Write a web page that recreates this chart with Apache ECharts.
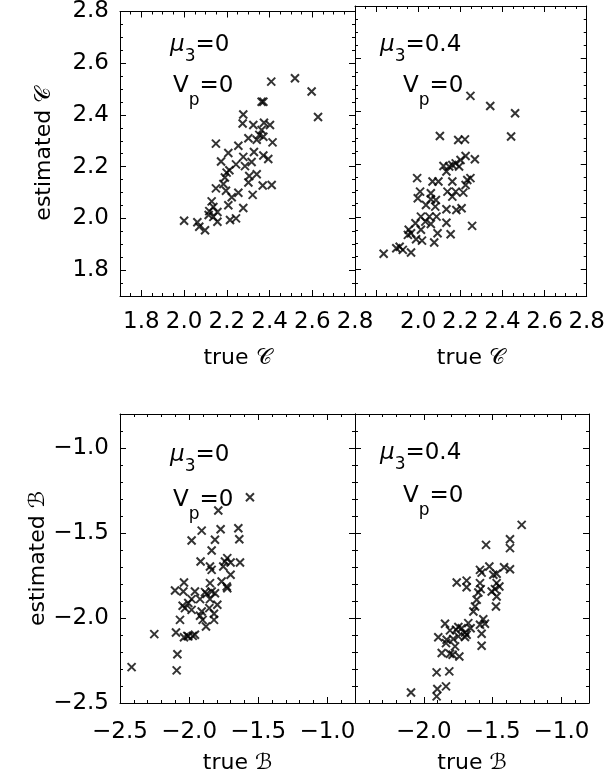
<!DOCTYPE html>
<html>
<head>
<meta charset="utf-8">
<script src="https://cdn.jsdelivr.net/npm/echarts@6/dist/echarts.min.js"></script>
<style>html,body{margin:0;padding:0;background:#fff}#c{width:608px;height:777px}</style>
</head>
<body>
<div id="c"></div>
<script>
// ---- data: [true, estimated] ----
const cTrueA = [2.408,2.519,2.597,2.627,2.363,2.371,2.277,2.274,2.324,2.374,2.402,2.363,2.352,2.301,2.340,2.371,2.414,2.149,2.254,2.207,2.327,2.277,2.371,2.394,2.173,2.243,2.285,2.316,2.212,2.199,2.191,2.184,2.305,2.301,2.340,2.368,2.410,2.149,2.196,2.254,2.223,2.321,2.129,2.137,2.118,2.156,2.207,2.277,2.137,2.156,2.215,2.243,2.000,2.062,2.071,2.098,2.115];
const cEstA  = [2.529,2.542,2.491,2.392,2.451,2.451,2.402,2.367,2.361,2.370,2.361,2.342,2.323,2.310,2.304,2.316,2.294,2.289,2.281,2.253,2.257,2.238,2.243,2.230,2.220,2.209,2.202,2.218,2.186,2.177,2.158,2.133,2.164,2.139,2.171,2.127,2.129,2.116,2.107,2.099,2.082,2.091,2.066,2.044,2.028,2.025,2.051,2.040,2.006,1.987,1.994,2.000,1.991,1.985,1.968,1.954,2.013];
const cTrueB = [2.248,2.342,2.460,2.441,2.103,2.190,2.222,2.225,2.269,2.201,2.178,2.120,2.147,2.162,2.134,1.995,2.068,2.096,2.162,2.233,2.248,2.225,2.009,2.060,2.139,2.178,2.214,1.998,2.060,2.084,2.162,2.037,2.081,2.134,2.181,2.206,2.013,2.053,2.087,1.987,2.034,2.060,2.134,2.256,1.955,1.966,2.092,2.154,1.990,2.018,2.076,1.912,1.896,1.927,1.966,1.836,1.951,2.013,2.194];
const cEstB  = [2.459,2.421,2.393,2.305,2.307,2.292,2.294,2.231,2.219,2.216,2.203,2.193,2.191,2.197,2.172,2.147,2.134,2.134,2.134,2.140,2.147,2.121,2.096,2.090,2.096,2.096,2.092,2.071,2.067,2.064,2.077,2.045,2.039,2.029,2.026,2.033,2.001,2.001,2.001,1.976,1.982,1.973,1.978,1.966,1.951,1.938,1.938,1.934,1.915,1.910,1.903,1.887,1.881,1.875,1.865,1.860,1.932,1.951,2.191];
const bTrueA = [-1.560,-1.789,-1.909,-1.982,-1.772,-1.644,-1.637,-1.813,-1.837,-1.917,-1.849,-1.837,-1.741,-1.724,-1.700,-1.632,-1.753,-1.700,-1.765,-1.728,-1.724,-2.102,-2.037,-2.042,-1.958,-1.885,-1.873,-1.813,-1.982,-1.921,-1.849,-1.796,-2.047,-2.030,-1.982,-1.909,-1.854,-2.006,-1.820,-1.820,-1.902,-2.066,-1.878,-2.095,-2.037,-2.013,-1.974,-1.958,-2.006,-2.252,-2.085,-2.090,-2.416,-1.921,-1.849,-1.837];
const bEstA  = [-1.290,-1.368,-1.486,-1.544,-1.478,-1.472,-1.537,-1.540,-1.603,-1.668,-1.697,-1.717,-1.668,-1.648,-1.674,-1.674,-1.697,-1.746,-1.785,-1.815,-1.825,-1.838,-1.791,-1.844,-1.844,-1.848,-1.858,-1.854,-1.889,-1.889,-1.889,-1.922,-1.928,-1.942,-1.952,-1.962,-1.942,-1.912,-1.975,-2.011,-2.011,-2.011,-2.050,-2.085,-2.113,-2.105,-2.105,-2.099,-2.108,-2.095,-2.213,-2.308,-2.289,-1.987,-1.795,-1.844];
const bTrueB = [-1.289,-1.374,-1.374,-1.548,-1.374,-1.417,-1.471,-1.495,-1.524,-1.592,-1.580,-1.761,-1.689,-1.689,-1.592,-1.587,-1.471,-1.483,-1.451,-1.507,-1.471,-1.476,-1.604,-1.616,-1.628,-1.640,-1.568,-1.556,-1.592,-1.660,-1.580,-1.580,-1.689,-1.725,-1.749,-1.846,-1.810,-1.895,-1.834,-1.839,-1.786,-1.749,-1.701,-1.773,-1.810,-1.791,-1.742,-1.870,-1.766,-1.907,-1.815,-1.839,-1.902,-1.907,-2.093,-1.701,-1.677];
const bEstB  = [-1.452,-1.537,-1.589,-1.570,-1.713,-1.701,-1.740,-1.746,-1.697,-1.717,-1.733,-1.791,-1.780,-1.819,-1.795,-1.830,-1.795,-1.830,-1.815,-1.844,-1.874,-1.932,-1.850,-1.893,-1.932,-1.962,-2.007,-2.034,-2.040,-2.060,-2.093,-2.163,-2.099,-2.060,-2.053,-2.034,-2.073,-2.113,-2.128,-2.148,-2.124,-2.108,-2.112,-2.167,-2.210,-2.216,-2.226,-2.206,-2.069,-2.320,-2.314,-2.402,-2.418,-2.461,-2.438,-2.085,-2.030];

// ---- ticks / labels ----
const cTicks = [1.8,2.0,2.2,2.4,2.6,2.8];
const cLabelsLeft = [1.8,2.0,2.2,2.4,2.6,2.8];
const cLabelsRight = [2.0,2.2,2.4,2.6,2.8];
const bTicks = [-2.5,-2.0,-1.5,-1.0];
const bLabelsLeft = [-2.5,-2.0,-1.5,-1.0];
const bLabelsRight = [-2.0,-1.5,-1.0];
const cRange = [1.7, 2.8];
const bRange = [-2.5, -0.8];

const FONT = 'DejaVu Sans';
const panels = [
  {box:[120,6,235,290], x:cTrueA, y:cEstA, range:cRange, minor:0.05, ticks:cTicks, xl:cLabelsLeft, yl:cLabelsLeft, xName:'true 𝒞', yName:'estimated 𝒞', xMargin:15, xGap:51},
  {box:[355,6,234,290], x:cTrueB, y:cEstB, range:cRange, minor:0.05, ticks:cTicks, xl:cLabelsRight, yl:[], xName:'true 𝒞', yName:'', xMargin:15, xGap:51},
  {box:[120,414,235,289], x:bTrueA, y:bEstA, range:bRange, minor:0.1, ticks:bTicks, xl:bLabelsLeft, yl:bLabelsLeft, xName:'true ℬ', yName:'estimated ℬ', xMargin:18, xGap:49},
  {box:[355,414,234,289], x:bTrueB, y:bEstB, range:bRange, minor:0.1, ticks:bTicks, xl:bLabelsRight, yl:[], xName:'true ℬ', yName:'', xMargin:18, xGap:49}
];

const fmt = v => Number(v).toFixed(1).replace('-', '\u2212');
const grids = [], xAxes = [], yAxes = [], series = [];

function makeAxes(gi, pos, p, labels, name, margin, gap, isY) {
  const minorAx = {
    type:'value', gridIndex:gi, position:pos, min:p.range[0], max:p.range[1], interval:p.minor,
    axisLine:{show:true, onZero:false, lineStyle:{color:'#000', width:1}},
    axisTick:{show:true, inside:true, length:3, lineStyle:{color:'#000', width:1}},
    axisLabel:{show:false}, splitLine:{show:false}
  };
  const majorAx = {
    type:'value', gridIndex:gi, position:pos, min:p.range[0], max:p.range[1],
    axisLine:{show:false, onZero:false},
    axisTick:{show:true, inside:true, length:6, customValues:p.ticks, lineStyle:{color:'#000', width:1}},
    axisLabel:{show:labels.length>0, customValues:labels, formatter:fmt, color:'#000', fontFamily:FONT, fontSize:23, margin:margin, showMinLabel:true, showMaxLabel:true, hideOverlap:false},
    splitLine:{show:false},
    name:name, nameLocation:'middle', nameGap:gap,
    nameTextStyle:{color:'#000', fontFamily:FONT, fontSize:22}
  };
  if (isY) majorAx.nameRotate = 90;
  return [minorAx, majorAx];
}

panels.forEach((p, gi) => {
  grids.push({left:p.box[0], top:p.box[1], width:p.box[2], height:p.box[3], containLabel:false});
  const xb = makeAxes(gi, 'bottom', p, p.xl, p.xName, p.xMargin, p.xGap, false);
  const xt = makeAxes(gi, 'top', p, [], '', 0, 0, false);
  const yl = makeAxes(gi, 'left', p, p.yl, p.yName, 11, 65, true);
  const yr = makeAxes(gi, 'right', p, [], '', 0, 0, true);
  const xi = xAxes.length; xAxes.push(...xb, ...xt);
  const yi = yAxes.length; yAxes.push(...yl, ...yr);
  series.push({
    type:'scatter', xAxisIndex:xi+1, yAxisIndex:yi+1,
    data:p.x.map((v,i)=>[v, p.y[i]]),
    symbol:'path://M0,0L10,10M10,0L0,10', symbolSize:8,
    itemStyle:{color:'rgba(0,0,0,0)', borderColor:'#000', borderWidth:2},
    silent:true, animation:false
  });
});

const rich = {
  g:{fontSize:23, fontFamily:FONT, fontStyle:'italic', color:'#000', lineHeight:40},
  m:{fontSize:23, fontFamily:FONT, color:'#000', lineHeight:40},
  s:{fontSize:17, fontFamily:FONT, color:'#000', lineHeight:17, verticalAlign:'bottom'},
  v:{fontSize:23, fontFamily:FONT, color:'#000', lineHeight:46},
  p:{fontSize:17, fontFamily:FONT, color:'#000', lineHeight:14, verticalAlign:'bottom'}
};
function ann(x, y, txt) {
  return {type:'text', x:x, y:y, silent:true, style:{text:txt, rich:rich, fill:'#000', font:'23px ' + FONT}};
}
const graphics = [
  ann(170, 25, '{g|μ}{s|3}{m|=0}'),
  ann(173, 63, '{v|V}{p|p}{v|=0}'),
  ann(380, 25, '{g|μ}{s|3}{m|=0.4}'),
  ann(403, 63, '{v|V}{p|p}{v|=0}'),
  ann(170, 435, '{g|μ}{s|3}{m|=0}'),
  ann(173, 477, '{v|V}{p|p}{v|=0}'),
  ann(380, 433, '{g|μ}{s|3}{m|=0.4}'),
  ann(403, 473, '{v|V}{p|p}{v|=0}')
];

const chart = echarts.init(document.getElementById('c'), null, {renderer:'canvas'});
chart.setOption({
  animation:false,
  backgroundColor:'#fff',
  grid:grids, xAxis:xAxes, yAxis:yAxes, series:series, graphic:graphics
});
</script>
</body>
</html>
